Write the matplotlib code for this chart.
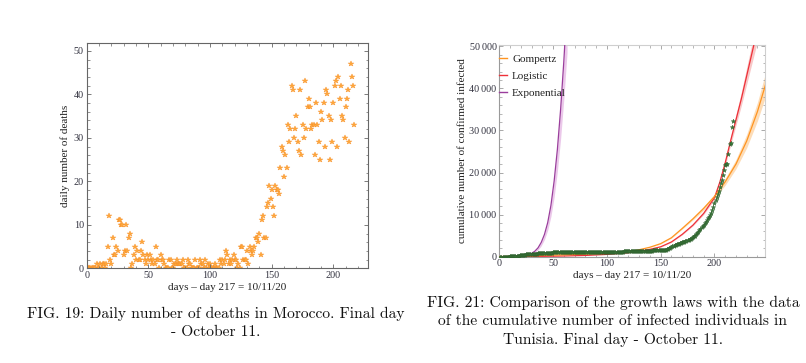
import matplotlib
matplotlib.use("Agg")
import matplotlib.pyplot as plt
from matplotlib.lines import Line2D
from matplotlib.ticker import MultipleLocator

# ---------------- data: left panel (Morocco daily deaths) ----------------
deaths = [
    0, 0, 0, 0, 0, 0, 0, 1, 0, 0,
    1, 0, 1, 1, 0, 1, 5, 12, 2, 1,
    7, 3, 3, 5, 4, 11, 11, 10, 10, 3,
    4, 10, 4, 7, 8, 0, 1, 3, 5, 2,
    4, 2, 2, 4, 6, 3, 2, 1, 3, 2,
    3, 2, 1, 2, 1, 5, 2, 2, 0, 3,
    2, 2, 1, 0, 0, 0, 2, 2, 0, 0,
    1, 1, 2, 1, 1, 1, 1, 2, 0, 0,
    0, 2, 1, 1, 0, 0, 0, 2, 0, 0,
    0, 2, 1, 1, 0, 2, 0, 1, 0, 1,
    0, 0, 0, 1, 0, 0, 0, 2, 1, 2,
    1, 2, 4, 3, 1, 2, 1, 2, 3, 2,
    2, 0, 1, 0, 5, 5, 2, 2, 2, 4,
    1, 5, 4, 3, 4, 5, 7, 7, 6, 8,
    3, 11, 12, 7, 7, 14, 15, 19, 16, 18,
    14, 12, 19, 18, 18, 17, 23, 28, 27, 21,
    26, 23, 33, 29, 32, 42, 41, 30, 32, 35,
    29, 27, 41, 26, 33, 30, 43, 32, 37, 39,
    37, 32, 33, 33, 26, 38, 33, 29, 25, 36,
    34, 38, 28, 41, 40, 35, 25, 34, 29, 38,
    42, 43, 28, 44, 39, 42, 35, 34, 30, 37,
    39, 41, 29, 47, 44, 42, 33,
]
death_days = list(range(1, len(deaths) + 1))

# ---------------- data: right panel (Tunisia cumulative infected) ----------------
infected = [
    0, 5, 8, 12, 16, 20, 24, 29, 39, 54,
    60, 75, 89, 114, 173, 197, 227, 278, 312, 362,
    394, 423, 455, 495, 553, 574, 596, 623, 628, 643,
    671, 685, 707, 726, 747, 780, 822, 866, 879, 884,
    909, 918, 922, 939, 949, 967, 975, 980, 994, 998,
    1009, 1013, 1018, 1022, 1025, 1026, 1032, 1032, 1035, 1037,
    1040, 1043, 1044, 1045, 1046, 1048, 1050, 1051, 1051, 1052,
    1054, 1056, 1057, 1060, 1063, 1064, 1068, 1071, 1071, 1072,
    1074, 1076, 1077, 1080, 1082, 1084, 1086, 1087, 1087, 1087,
    1088, 1093, 1094, 1110, 1125, 1132, 1136, 1143, 1148, 1157,
    1157, 1160, 1164, 1168, 1172, 1174, 1175, 1178, 1181, 1186,
    1188, 1199, 1205, 1218, 1230, 1245, 1263, 1284, 1301, 1319,
    1327, 1330, 1333, 1336, 1340, 1343, 1346, 1350, 1353, 1356,
    1360, 1370, 1380, 1390, 1400, 1410, 1420, 1430, 1440, 1450,
    1460, 1470, 1480, 1490, 1500, 1510, 1520, 1530, 1540, 1560,
    1580, 1600, 1630, 1660, 1700, 1750, 1850, 1980, 2150, 2330,
    2450, 2570, 2690, 2800, 2900, 3000, 3100, 3200, 3300, 3400,
    3500, 3600, 3700, 3800, 3900, 4000, 4150, 4300, 4450, 4600,
    4800, 5000, 5300, 5600, 5950, 6300, 6700, 7000, 7300, 7600,
    7900, 8300, 8700, 9100, 9500, 10000, 10500, 11000, 11800, 12800,
    13500, 14200, 14900, 15600, 16500, 17500, 18300, 19500, 20600, 21800,
    22000, 22100, 24300, 26700, 26900, 30900, 32300,
]
infected_days = list(range(1, len(infected) + 1))

# model curves
gom_days = [0, 20, 40, 60, 80, 100, 110, 120, 130, 140, 150, 160, 170, 180, 190, 200, 210, 220, 230, 240, 250]
gom_vals = [30, 150, 300, 450, 600, 800, 950, 1200, 1650, 2250, 3100, 4500, 6700, 9000, 11500, 14300, 17800, 22000, 27500, 34500, 43000]
gom_lo = [30, 150, 300, 450, 600, 800, 950, 1180, 1620, 2200, 3030, 4400, 6550, 8750, 11100, 13800, 17000, 20900, 25900, 32300, 40000]
gom_hi = [30, 150, 300, 450, 600, 800, 950, 1220, 1680, 2300, 3170, 4600, 6850, 9250, 11900, 14800, 18600, 23100, 29100, 36700, 46000]

log_days = [0, 20, 40, 60, 80, 100, 120, 130, 140, 150, 160, 170, 180, 190, 200, 205, 210, 215, 220, 225, 230, 235, 240]
log_vals = [0, 40, 90, 170, 300, 550, 950, 1300, 1750, 2350, 3500, 5300, 7500, 10300, 14000, 17700, 22300, 27500, 32500, 37500, 43000, 48500, 54000]
log_lo = [0, 40, 90, 170, 300, 540, 930, 1270, 1710, 2300, 3420, 5180, 7320, 10030, 13600, 17150, 21550, 26500, 31200, 35900, 41000, 46100, 51200]
log_hi = [0, 40, 90, 170, 300, 560, 970, 1330, 1790, 2400, 3580, 5420, 7680, 10570, 14400, 18250, 23050, 28500, 33800, 39100, 45000, 50900, 56800]

exp_days = [0, 10, 20, 25, 30, 33, 36, 39, 42, 45, 48, 51, 54, 57, 60, 63]
exp_vals = [20, 60, 200, 400, 800, 1300, 2100, 3400, 5300, 8100, 12200, 18000, 25500, 35000, 46500, 60000]
exp_lo = [15, 45, 150, 300, 600, 1000, 1600, 2600, 4100, 6300, 9600, 14200, 20300, 28000, 37500, 48500]

left_xticks = [0, 50, 100, 150, 200]
left_yticks = [0, 10, 20, 30, 40, 50]
right_xticks = [0, 50, 100, 150, 200]
right_yticks = [0, 10000, 20000, 30000, 40000, 50000]
right_ytick_labels = ["0", "10\u2009000", "20\u2009000", "30\u2009000", "40\u2009000", "50\u2009000"]

cap_left = "FIG. 19: Daily number of deaths in Morocco. Final day\n- October 11."
cap_right = ("FIG. 21: Comparison of the growth laws with the data\n"
             "of the cumulative number of infected individuals in\n"
             "Tunisia. Final day - October 11.")

# ---------------- figure ----------------
W, H = 806, 363
fig = plt.figure(figsize=(W / 100, H / 100), dpi=100)
serif = ["Liberation Serif", "DejaVu Serif"]
tick_color = "#333340"


def style_axes(ax, frame_main, frame_light):
    ax.tick_params(which="both", direction="in", top=True, right=True,
                   labelsize=7.3, labelcolor=tick_color, pad=2)
    ax.tick_params(which="major", length=3.2, width=0.6)
    ax.tick_params(which="minor", length=1.8, width=0.5)
    for lab in ax.get_xticklabels() + ax.get_yticklabels():
        lab.set_family(serif)
    for s in ("left", "bottom"):
        ax.spines[s].set_color(frame_main)
        ax.spines[s].set_linewidth(0.8)
    for s in ("top", "right"):
        ax.spines[s].set_color(frame_light)
        ax.spines[s].set_linewidth(0.8)
    ax.tick_params(which="both", colors=frame_main, labelcolor=tick_color)


# left panel
axL = fig.add_axes([86.7 / W, 1 - 268.3 / H, (368 - 86.7) / W, (268.3 - 43) / H])
axL.plot(death_days, deaths, linestyle="none", marker="*", markersize=4.2,
         markerfacecolor="#FFA83C", markeredgecolor="#F69028", markeredgewidth=0.3,
         zorder=1)
axL.set_xlim(0, 228)
axL.set_ylim(0, 51.8)
axL.set_xticks(left_xticks)
axL.set_yticks(left_yticks)
axL.xaxis.set_minor_locator(MultipleLocator(10))
axL.yaxis.set_minor_locator(MultipleLocator(2))
style_axes(axL, "#666666", "#666666")
axL.set_xlabel("days \u2013 day 217 = 10/11/20", family=serif, fontsize=8, color="#222222", labelpad=2)
axL.set_ylabel("daily number of deaths", family=serif, fontsize=8, color="#222222", labelpad=3)

# right panel
axR = fig.add_axes([499.3 / W, 1 - 256.7 / H, (765 - 499.3) / W, (256.7 - 45) / H])
axR.fill_between(exp_days, exp_lo, exp_vals, color="#EBC8EA", lw=0, zorder=1)
axR.fill_between(log_days, log_lo, log_hi, color="#F8C8C8", lw=0, zorder=1)
axR.fill_between(gom_days, gom_lo, gom_hi, color="#FDDDB8", lw=0, zorder=1)
axR.plot(exp_days, exp_vals, color="#9A3D9C", lw=0.9, zorder=3)
axR.plot(log_days, log_vals, color="#EE3038", lw=0.9, zorder=3)
axR.plot(gom_days, gom_vals, color="#FF9420", lw=0.9, zorder=3)
axR.plot(infected_days, infected, linestyle="none", marker="*", markersize=3.4,
         markerfacecolor="#3B7A3B", markeredgecolor="#2C5E2C", markeredgewidth=0.3,
         zorder=4)
axR.set_xlim(0, 247)
axR.set_ylim(0, 50300)
axR.set_xticks(right_xticks)
axR.set_yticks(right_yticks)
axR.set_yticklabels(right_ytick_labels)
axR.xaxis.set_minor_locator(MultipleLocator(10))
axR.yaxis.set_minor_locator(MultipleLocator(2000))
style_axes(axR, "#9a9a9a", "#cfcfcf")
axR.set_xlabel("days \u2013 day 217 = 10/11/20", family=serif, fontsize=8, color="#222222", labelpad=2)
axR.set_ylabel("cumulative number of confirmed infected", family=serif, fontsize=8,
               color="#222222", labelpad=2)

handles = [Line2D([], [], color="#FF9420", lw=1.0),
           Line2D([], [], color="#EE3038", lw=1.0),
           Line2D([], [], color="#9A3D9C", lw=1.0)]
leg = axR.legend(handles, ["Gompertz", "Logistic", "Exponential"], loc="upper left",
                 bbox_to_anchor=(0.0, 0.955), frameon=False, handlelength=0.7,
                 handletextpad=0.45, labelspacing=0.62, borderaxespad=0, borderpad=0,
                 prop={"family": serif, "size": 8})
for t in leg.get_texts():
    t.set_color("#222222")

# captions
fig.text(216 / W, 1 - 322.5 / H, cap_left, family="cmr10", fontsize=11.2, ha="center",
         va="center", linespacing=1.38, color="#111111")
fig.text(613 / W, 1 - 321.5 / H, cap_right, family="cmr10", fontsize=11.2, ha="center",
         va="center", linespacing=1.38, color="#111111")

fig.savefig("out.png", dpi=100)
